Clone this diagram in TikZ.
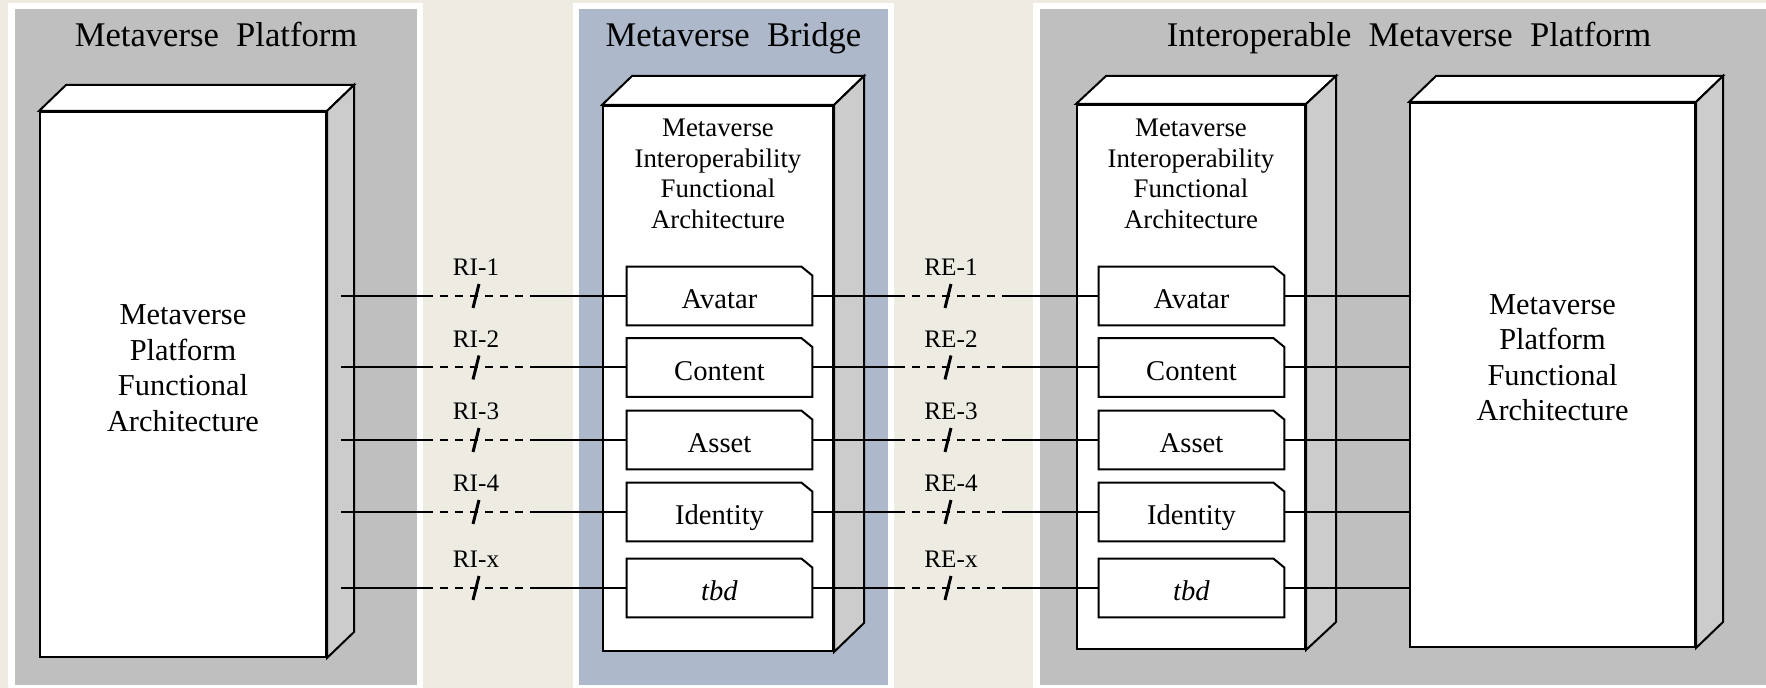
\documentclass[tikz,border=0pt]{standalone}
\usepackage{fontspec}
\setmainfont{Liberation Serif}
\usetikzlibrary{calc}

\definecolor{pagebg}{HTML}{EEEBE3}
\definecolor{panelgray}{HTML}{BFBFBF}
\definecolor{panelblue}{HTML}{ADB9CA}
\definecolor{sideface}{HTML}{CCCCCC}

\tikzset{
  frontface/.style={rectangle, draw=black, line width=1pt, fill=white, inner sep=0pt},
  depthface/.style={draw=black, line width=1pt, line join=miter},
  paneltitle/.style={anchor=base, inner sep=0pt, font=\fontsize{17.3}{20}\selectfont},
  bigtext/.style={align=center, inner sep=0pt, font=\fontsize{15.2}{17.75}\selectfont},
  archtext/.style={align=center, inner sep=0pt, font=\fontsize{13.4}{15.25}\selectfont},
  fnnode/.style={rectangle, inner sep=0pt, minimum width=92.5pt, minimum height=29pt,
    text height=13pt, text depth=0pt, font=\fontsize{14.3}{17}\selectfont},
  fnline/.style={draw=black, line width=1pt, line join=miter},
  link/.style={draw=black, line width=1pt},
  gapdash/.style={dash pattern=on 4pt off 3.5pt, dash phase=4pt},
  cut/.style={draw=black, line width=1.5pt},
  iflabel/.style={anchor=base, inner sep=0pt, font=\fontsize{12.6}{15}\selectfont}
}

% top and side faces of a slab whose front face is node #1, depth (#2,#3) in px
\newcommand{\slabdepth}[3]{%
  \draw[depthface, fill=white] (#1.north west) -- ++(#2,-#3)
    -- ($(#1.north east)+(#2,-#3)$) -- (#1.north east) -- cycle;
  \draw[depthface, fill=sideface] (#1.north east) -- ++(#2,-#3)
    -- ($(#1.south east)+(#2,-#3)$) -- (#1.south east) -- cycle;
}

% function block with a clipped upper right corner
\newcommand{\fnbox}[4]{%
  \node[fnnode] (#1) at (#2,#3) {#4};
  \draw[fnline] (#1.south west) -- (#1.north west) -- ([xshift=-5.5pt]#1.north east)
    -- ([yshift=-4.5pt]#1.north east) -- (#1.south east) -- cycle;
}

\begin{document}
\begin{tikzpicture}[x=0.5pt, y=-0.5pt]
\useasboundingbox (0,0) rectangle (1766,688);
\fill[pagebg] (0,0) rectangle (1766,688);

% panels
\fill[white] (8,3) rectangle (423,688);
\fill[panelgray] (15,9) rectangle (417,685);
\fill[white] (573,3) rectangle (894,688);
\fill[panelblue] (579,9) rectangle (888,685);
\fill[white] (1033,3) rectangle (1766,688);
\fill[panelgray] (1040,9) rectangle (1766,685);

% panel titles
\node[paneltitle] (tp) at (216,47) {Metaverse\ \ Platform};
\node[paneltitle] (tb) at (733.5,47) {Metaverse\ \ Bridge};
\node[paneltitle] (ti) at (1409,47) {Interoperable\ \ Metaverse\ \ Platform};

% slabs
\node[frontface, minimum width=143pt, minimum height=272.5pt] (lb) at (183,384.5) {};
\slabdepth{lb}{27}{26}
\node[frontface, minimum width=115pt, minimum height=272.5pt] (bb) at (718,378.5) {};
\slabdepth{bb}{30}{29}
\node[frontface, minimum width=114pt, minimum height=272pt] (ib) at (1191,377) {};
\slabdepth{ib}{30}{28}
\node[frontface, minimum width=142.5pt, minimum height=272pt] (pb) at (1552.5,375) {};
\slabdepth{pb}{27}{26}

% slab captions
\node[bigtext] (lbt) at (183,368) {Metaverse\\Platform\\Functional\\Architecture};
\node[bigtext] (pbt) at (1552.5,357.5) {Metaverse\\Platform\\Functional\\Architecture};
\node[archtext] (bbt) at (718,174) {Metaverse\\Interoperability\\Functional\\Architecture};
\node[archtext] (ibt) at (1191,174) {Metaverse\\Interoperability\\Functional\\Architecture};

% function blocks
\foreach \i/\y/\t in {1/296/Avatar, 2/367.5/Content, 3/440/Asset, 4/512/Identity, 5/588/\textit{tbd}} {
  \fnbox{b\i}{719.5}{\y}{\t}
  \fnbox{r\i}{1191.5}{\y}{\t}
}

% reference point columns
\coordinate (riA) at (433,0);
\coordinate (riB) at (532,0);
\coordinate (riS) at (476,0);
\coordinate (reA) at (905,0);
\coordinate (reB) at (1003,0);
\coordinate (reS) at (948,0);
\coordinate (reL) at (951,0);

% reference points RI and RE
\foreach \i/\n in {1/1, 2/2, 3/3, 4/4, 5/x} {
  \coordinate (s\i) at ($(lb.east |- b\i.west)+(14,0)$);
  \draw[link] (s\i) -- (riA |- b\i.west);
  \draw[link, gapdash] (riA |- b\i.west) -- (riB |- b\i.west);
  \draw[link] (riB |- b\i.west) -- (b\i.west);
  \draw[cut] ($(riS |- b\i.west)+(-3,12)$) -- ($(riS |- b\i.west)+(3,-12)$);
  \node[iflabel] (ril\i) at ($(riS |- b\i.west)+(0,-20)$) {RI-\n};

  \draw[link] (b\i.east) -- (reA |- b\i.east);
  \draw[link, gapdash] (reA |- b\i.east) -- (reB |- b\i.east);
  \draw[link] (reB |- b\i.east) -- (r\i.west);
  \draw[cut] ($(reS |- b\i.east)+(-3,12)$) -- ($(reS |- b\i.east)+(3,-12)$);
  \node[iflabel] (rel\i) at ($(reL |- b\i.east)+(0,-20)$) {RE-\n};

  \draw[link] (r\i.east) -- (pb.west |- r\i.east);
}
\end{tikzpicture}
\end{document}
